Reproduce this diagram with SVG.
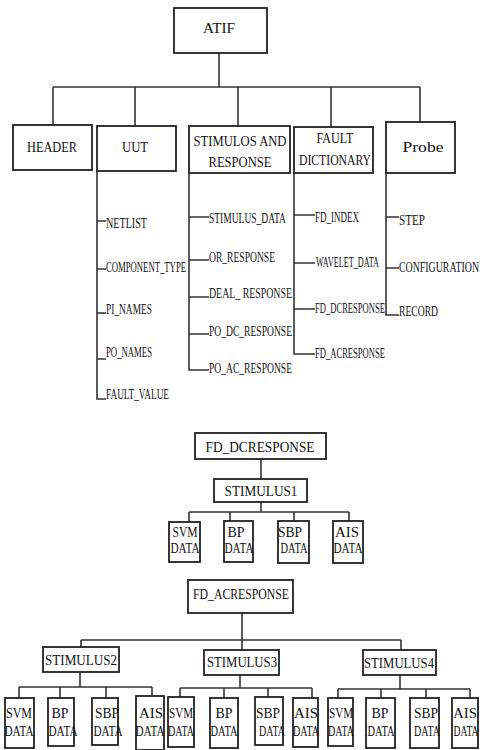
<svg xmlns="http://www.w3.org/2000/svg" width="480" height="750" viewBox="0 0 480 750">
<style>
.box{fill:#fff;stroke:#222;stroke-width:1.8}
.ln{fill:none;stroke:#333;stroke-width:1.6}
text{font-family:"Liberation Serif","DejaVu Serif","Times New Roman",serif;fill:#111}
.t{font-size:15px;text-anchor:middle}
.l{font-size:15px}
.d{font-size:15px;text-anchor:middle}
.dd{font-size:14px;text-anchor:middle}
</style>
<rect width="480" height="750" fill="#fff"/>
<g id="connectors">
<path class="ln" d="M219 53V87M53 87H420M53 87V125M135 87V126M238 87V126M331 87V127M420 87V122"/>
<path class="ln" d="M97 171V399H106M97 221H106M97 269H106M97 313H106M97 359H106"/>
<path class="ln" d="M189 173V370H209M189 217H209M189 260H209M189 297H209M189 334H209"/>
<path class="ln" d="M294 173V354H315M294 215H315M294 263H315M294 309H315"/>
<path class="ln" d="M386 173V315H399M386 217H399M386 268H399"/>
<path class="ln" d="M261 459V479M261 502V512M189 512H349M189 512V522M230 512V521M294 512V521M349 512V521"/>
<path class="ln" d="M242 613V640M81 640H401M81 640V647M242 640V650M401 640V650"/>
<path class="ln" d="M80 672V687M19 687H152M19 687V698M60 687V698M106 687V698M152 687V696"/>
<path class="ln" d="M240 675V688M180 688H312M180 688V697M224 688V698M268 688V697M312 688V698"/>
<path class="ln" d="M400 675V689M338 689H470M338 689V698M381 689V698M426 689V698M470 689V698"/>
</g>
<g id="atif"><rect class="box" x="174" y="8" width="93" height="45"/><text class="t" x="219" y="33" textLength="32" lengthAdjust="spacingAndGlyphs">ATIF</text></g>
<g id="header"><rect class="box" x="13" y="125" width="79" height="45"/><text class="t" x="52" y="152" textLength="50" lengthAdjust="spacingAndGlyphs">HEADER</text></g>
<g id="uut"><rect class="box" x="97" y="126" width="79" height="45"/><text class="t" x="135" y="152" textLength="26" lengthAdjust="spacingAndGlyphs">UUT</text></g>
<g id="stimresp"><rect class="box" x="189" y="126" width="101" height="47"/><text class="t" x="240" y="146" textLength="93" lengthAdjust="spacingAndGlyphs">STIMULOS AND</text><text class="t" x="240" y="167" textLength="63" lengthAdjust="spacingAndGlyphs">RESPONSE</text></g>
<g id="faultdict"><rect class="box" x="294" y="127" width="79" height="46"/><text class="t" x="335" y="143" textLength="37" lengthAdjust="spacingAndGlyphs">FAULT</text><text class="t" x="335" y="165" textLength="72" lengthAdjust="spacingAndGlyphs">DICTIONARY</text></g>
<g id="probe"><rect class="box" x="386" y="122" width="69" height="51"/><text class="t" x="423" y="152" textLength="41" lengthAdjust="spacingAndGlyphs">Probe</text></g>
<g id="uut-items">
<text class="l" x="106" y="228" textLength="41" lengthAdjust="spacingAndGlyphs">NETLIST</text>
<text class="l" x="106" y="272" textLength="80" lengthAdjust="spacingAndGlyphs">COMPONENT_TYPE</text>
<text class="l" x="106" y="314" textLength="46" lengthAdjust="spacingAndGlyphs">PI_NAMES</text>
<text class="l" x="106" y="357" textLength="46" lengthAdjust="spacingAndGlyphs">PO_NAMES</text>
<text class="l" x="106" y="399" textLength="63" lengthAdjust="spacingAndGlyphs">FAULT_VALUE</text>
</g>
<g id="sr-items">
<text class="l" x="209" y="223" textLength="77" lengthAdjust="spacingAndGlyphs">STIMULUS_DATA</text>
<text class="l" x="209" y="262" textLength="66" lengthAdjust="spacingAndGlyphs">OR_RESPONSE</text>
<text class="l" x="209" y="298" textLength="83" lengthAdjust="spacingAndGlyphs">DEAL_ RESPONSE</text>
<text class="l" x="209" y="336" textLength="83" lengthAdjust="spacingAndGlyphs">PO_DC_RESPONSE</text>
<text class="l" x="209" y="373" textLength="83" lengthAdjust="spacingAndGlyphs">PO_AC_RESPONSE</text>
</g>
<g id="fd-items">
<text class="l" x="315" y="222" textLength="44" lengthAdjust="spacingAndGlyphs">FD_INDEX</text>
<text class="l" x="316" y="267" textLength="63" lengthAdjust="spacingAndGlyphs">WAVELET_DATA</text>
<text class="l" x="315" y="313" textLength="70" lengthAdjust="spacingAndGlyphs">FD_DCRESPONSE</text>
<text class="l" x="315" y="358" textLength="70" lengthAdjust="spacingAndGlyphs">FD_ACRESPONSE</text>
</g>
<g id="probe-items">
<text class="l" x="399" y="225" textLength="26" lengthAdjust="spacingAndGlyphs">STEP</text>
<text class="l" x="399" y="272" textLength="80" lengthAdjust="spacingAndGlyphs">CONFIGURATION</text>
<text class="l" x="399" y="316" textLength="39" lengthAdjust="spacingAndGlyphs">RECORD</text>
</g>
<g id="fd-dcresponse"><rect class="box" x="195" y="433" width="131" height="26"/><text class="t" x="260" y="452" textLength="109" lengthAdjust="spacingAndGlyphs">FD_DCRESPONSE</text></g>
<g id="stimulus1"><rect class="box" x="214" y="479" width="93" height="23"/><text class="t" x="261" y="496" textLength="73" lengthAdjust="spacingAndGlyphs">STIMULUS1</text></g>
<g id="s1-svm"><rect class="box" x="169" y="522" width="31" height="40"/><text class="d" x="185" y="537" textLength="25" lengthAdjust="spacingAndGlyphs">SVM</text><text class="dd" x="185" y="553" textLength="29" lengthAdjust="spacingAndGlyphs">DATA</text></g>
<g id="s1-bp"><rect class="box" x="224" y="521" width="29" height="41"/><text class="d" x="236" y="537" textLength="17" lengthAdjust="spacingAndGlyphs">BP</text><text class="dd" x="239" y="553" textLength="29" lengthAdjust="spacingAndGlyphs">DATA</text></g>
<g id="s1-sbp"><rect class="box" x="278" y="521" width="31" height="42"/><text class="d" x="290" y="537" textLength="24" lengthAdjust="spacingAndGlyphs">SBP</text><text class="dd" x="294" y="553" textLength="27" lengthAdjust="spacingAndGlyphs">DATA</text></g>
<g id="s1-ais"><rect class="box" x="333" y="521" width="30" height="42"/><text class="d" x="347" y="537" textLength="24" lengthAdjust="spacingAndGlyphs">AIS</text><text class="dd" x="348" y="553" textLength="29" lengthAdjust="spacingAndGlyphs">DATA</text></g>
<g id="fd-acresponse"><rect class="box" x="188" y="580" width="105" height="33"/><text class="t" x="241" y="599" textLength="96" lengthAdjust="spacingAndGlyphs">FD_ACRESPONSE</text></g>
<g id="stimulus2"><rect class="box" x="43" y="647" width="76" height="25"/><text class="t" x="81" y="665" textLength="72" lengthAdjust="spacingAndGlyphs">STIMULUS2</text></g>
<g id="stimulus3"><rect class="box" x="204" y="650" width="75" height="25"/><text class="t" x="242" y="667" textLength="70" lengthAdjust="spacingAndGlyphs">STIMULUS3</text></g>
<g id="stimulus4"><rect class="box" x="363" y="650" width="73" height="25"/><text class="t" x="399" y="668" textLength="70" lengthAdjust="spacingAndGlyphs">STIMULUS4</text></g>
<g id="s2-svm"><rect class="box" x="5" y="698" width="29" height="50"/><text class="d" x="19" y="718" textLength="26" lengthAdjust="spacingAndGlyphs">SVM</text><text class="dd" x="19" y="736" textLength="29" lengthAdjust="spacingAndGlyphs">DATA</text></g>
<g id="s2-bp"><rect class="box" x="48" y="698" width="26" height="48"/><text class="d" x="60" y="718" textLength="17" lengthAdjust="spacingAndGlyphs">BP</text><text class="dd" x="63" y="736" textLength="29" lengthAdjust="spacingAndGlyphs">DATA</text></g>
<g id="s2-sbp"><rect class="box" x="92" y="698" width="26" height="47"/><text class="d" x="107" y="718" textLength="24" lengthAdjust="spacingAndGlyphs">SBP</text><text class="dd" x="108" y="736" textLength="29" lengthAdjust="spacingAndGlyphs">DATA</text></g>
<g id="s2-ais"><rect class="box" x="136" y="696" width="28" height="54"/><text class="d" x="151" y="718" textLength="24" lengthAdjust="spacingAndGlyphs">AIS</text><text class="dd" x="150" y="736" textLength="29" lengthAdjust="spacingAndGlyphs">DATA</text></g>
<g id="s3-svm"><rect class="box" x="168" y="697" width="26" height="50"/><text class="d" x="181" y="718" textLength="24" lengthAdjust="spacingAndGlyphs">SVM</text><text class="dd" x="181" y="736" textLength="26" lengthAdjust="spacingAndGlyphs">DATA</text></g>
<g id="s3-bp"><rect class="box" x="210" y="698" width="28" height="50"/><text class="d" x="224" y="718" textLength="17" lengthAdjust="spacingAndGlyphs">BP</text><text class="dd" x="224" y="736" textLength="27" lengthAdjust="spacingAndGlyphs">DATA</text></g>
<g id="s3-sbp"><rect class="box" x="255" y="697" width="28" height="48"/><text class="d" x="268" y="718" textLength="24" lengthAdjust="spacingAndGlyphs">SBP</text><text class="dd" x="272" y="736" textLength="26" lengthAdjust="spacingAndGlyphs">DATA</text></g>
<g id="s3-ais"><rect class="box" x="293" y="698" width="25" height="49"/><text class="d" x="306" y="718" textLength="24" lengthAdjust="spacingAndGlyphs">AIS</text><text class="dd" x="306" y="736" textLength="26" lengthAdjust="spacingAndGlyphs">DATA</text></g>
<g id="s4-svm"><rect class="box" x="328" y="698" width="25" height="48"/><text class="d" x="341" y="718" textLength="24" lengthAdjust="spacingAndGlyphs">SVM</text><text class="dd" x="341" y="736" textLength="26" lengthAdjust="spacingAndGlyphs">DATA</text></g>
<g id="s4-bp"><rect class="box" x="366" y="698" width="29" height="50"/><text class="d" x="380" y="718" textLength="17" lengthAdjust="spacingAndGlyphs">BP</text><text class="dd" x="381" y="736" textLength="27" lengthAdjust="spacingAndGlyphs">DATA</text></g>
<g id="s4-sbp"><rect class="box" x="410" y="698" width="29" height="50"/><text class="d" x="426" y="718" textLength="24" lengthAdjust="spacingAndGlyphs">SBP</text><text class="dd" x="427" y="736" textLength="26" lengthAdjust="spacingAndGlyphs">DATA</text></g>
<g id="s4-ais"><rect class="box" x="452" y="698" width="26" height="50"/><text class="d" x="465" y="718" textLength="24" lengthAdjust="spacingAndGlyphs">AIS</text><text class="dd" x="466" y="736" textLength="25" lengthAdjust="spacingAndGlyphs">DATA</text></g>
</svg>
